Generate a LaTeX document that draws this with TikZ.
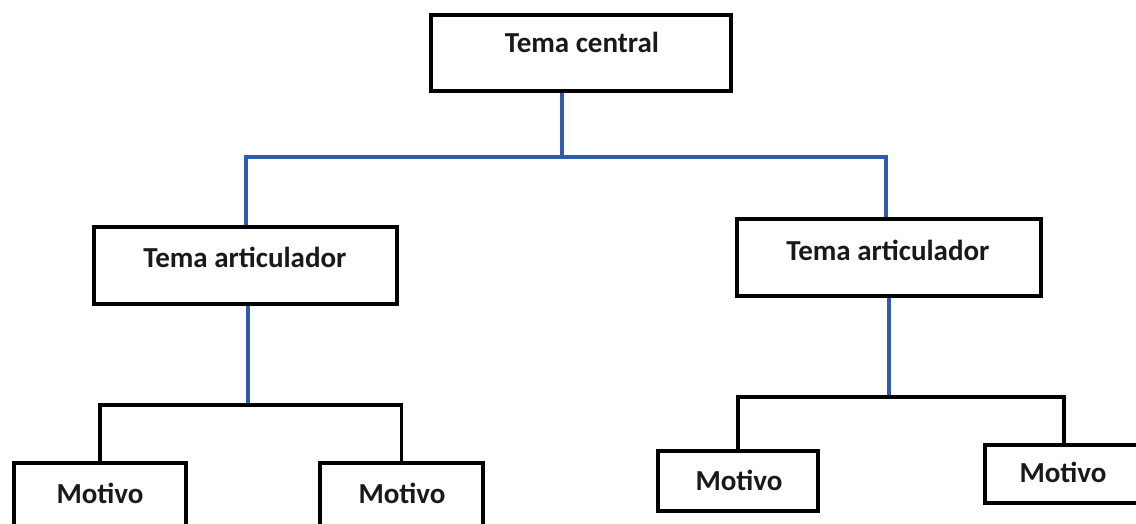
\documentclass[tikz,border=0pt]{standalone}
\usepackage{fontspec}
\setmainfont{Carlito}
\definecolor{blueline}{RGB}{47,92,170}
\begin{document}
\begin{tikzpicture}[x=1pt,y=-1pt,
  box/.style={draw=black,line width=3.6pt,rectangle,inner sep=0pt},
  lbl/.style={font=\fontsize{29}{30}\selectfont\bfseries,anchor=base,inner sep=0pt,text=black!90},
  bline/.style={draw=blueline,line width=4pt},
  kline/.style={draw=black,line width=3.6pt}]
\useasboundingbox (0,0) rectangle (1136,524);
\clip (0,0) rectangle (1136,524);
% boxes
\node[box,minimum width=300pt,minimum height=76pt] (C) at (581,53) {};
\node[box,minimum width=303pt,minimum height=77pt] (TAL) at (245.5,265.5) {};
\node[box,minimum width=304pt,minimum height=77pt] (TAR) at (889,257.5) {};
\node[box,minimum width=172pt,minimum height=80pt] (M1) at (100,503) {};
\node[box,minimum width=163pt,minimum height=80pt] (M2) at (401.5,503) {};
\node[box,minimum width=160pt,minimum height=60pt] (M3) at (738,481) {};
\node[box,minimum width=158pt,minimum height=58pt] (M4) at (1064,474) {};
% labels
\node[lbl] (tC) at (582,53) {Tema central};
\node[lbl] (tTAL) at (245,267) {Tema articulador};
\node[lbl] (tTAR) at (888,260) {Tema articulador};
\node[lbl] (tM1) at (100,503) {Motivo};
\node[lbl] (tM2) at (402,503) {Motivo};
\node[lbl] (tM3) at (739,490) {Motivo};
\node[lbl] (tM4) at (1063,482) {Motivo};
% junction coordinates
\coordinate (j0) at (562,157);
\coordinate (bl) at (245.5,157);
\coordinate (br) at (886,157);
\coordinate (h1) at (248,405);
\coordinate (h2) at (889,397);
% connectors
\draw[bline] (C.south -| j0) -- (j0);
\draw[bline,line join=miter] (TAL.north) |- (j0) -| (br |- TAR.north);
\draw[bline] (TAL.south -| h1) -- (h1);
\draw[bline] (TAR.south) -- (h2);
\draw[kline,line join=miter] (M1.north) |- (h1) -| (M2.north);
\draw[kline,line join=miter] (M3.north) |- (h2) -| (M4.north);
\end{tikzpicture}
\end{document}
